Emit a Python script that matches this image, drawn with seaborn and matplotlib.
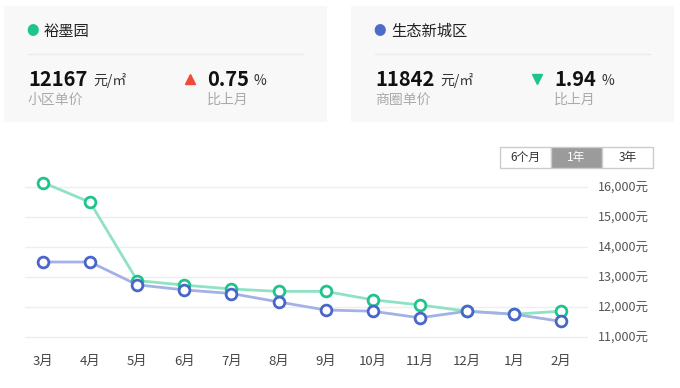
import matplotlib
matplotlib.use("Agg")
import matplotlib.pyplot as plt
import seaborn as sns
import pandas as pd
from matplotlib.patches import Rectangle

months = ["3月", "4月", "5月", "6月", "7月", "8月", "9月", "10月", "11月", "12月", "1月", "2月"]
yumoyuan = [16150, 15490, 12880, 12730, 12600, 12520, 12520, 12240, 12070, 11860, 11760, 11860]
shengtai = [13500, 13500, 12740, 12570, 12450, 12170, 11900, 11860, 11640, 11860, 11760, 11520]
yticks = [11000, 12000, 13000, 14000, 15000, 16000]
name1, name2 = "裕墨园", "生态新城区"
price1, price2 = "12167", "11842"
change1, change2 = "0.75", "1.94"
buttons = ["6个月", "1年", "3年"]

sns.set_theme(style="white")
plt.rcParams['font.family'] = ['Noto Sans CJK SC', 'DejaVu Sans']

W, H = 680, 388
fig = plt.figure(figsize=(W / 100, H / 100), dpi=100)
fig.patch.set_facecolor("white")

def fx(x): return x / W
def fy(y): return 1 - y / H

def rect(x0, y0, x1, y1, **kw):
    fig.patches.append(Rectangle((fx(x0), fy(y1)), fx(x1) - fx(x0), fy(y0) - fy(y1),
                                 transform=fig.transFigure, figure=fig, **kw))

GREEN_DARK = "#1fc48d"
GREEN_LINE = "#8fe2c3"
BLUE_DARK = "#4a66c8"
BLUE_LINE = "#a4b1e6"

# cards
for (x0, x1, dotc, name, price, arrow, arrowc, chg, lab) in [
    (4, 327, GREEN_DARK, name1, price1, "^", "#f04b3a", change1, "小区单价"),
    (351, 674, "#4d6bc9", name2, price2, "v", GREEN_DARK, change2, "商圈单价"),
]:
    rect(x0, 6, x1, 122, facecolor="#f8f8f8", edgecolor="none")
    fig.lines.append(plt.Line2D([fx(x0 + 24), fx(x1 - 24)], [fy(54), fy(54)],
                                transform=fig.transFigure, color="#ebebeb", lw=1))
    fig.text(fx(x0 + 29), fy(31), "●", color=dotc, fontsize=9, ha="center", va="center")
    fig.text(fx(x0 + 40), fy(31), name, color="#222222", fontsize=11, ha="left", va="center")
    fig.text(fx(x0 + 24), fy(80), price, color="#111111", fontsize=14.5,
             fontweight="bold", ha="left", va="center")
    fig.text(fx(x0 + 89), fy(81), "元/㎡", color="#333333", fontsize=10, ha="left", va="center")
    fig.text(fx(x0 + 24), fy(100), lab, color="#aaaaaa", fontsize=10, ha="left", va="center")
    fig.lines.append(plt.Line2D([fx(x0 + 186)], [fy(79)], transform=fig.transFigure,
                                marker=arrow, color=arrowc, markersize=7, lw=0))
    fig.text(fx(x0 + 203), fy(80), chg, color="#111111", fontsize=14.5,
             fontweight="bold", ha="left", va="center")
    fig.text(fx(x0 + 250), fy(81), "%", color="#333333", fontsize=10, ha="left", va="center")
    fig.text(fx(x0 + 203), fy(100), "比上月", color="#aaaaaa", fontsize=10, ha="left", va="center")

# buttons
bx = [500, 551, 602, 653]
for i, b in enumerate(buttons):
    sel = (i == 1)
    rect(bx[i], 147, bx[i + 1], 168, facecolor="#9b9b9b" if sel else "white",
         edgecolor="#cccccc", lw=1)
    fig.text(fx((bx[i] + bx[i + 1]) / 2), fy(157.5), b, color="white" if sel else "#333333",
             fontsize=8.5, ha="center", va="center")

# chart
ax = fig.add_axes([fx(25), fy(347), fx(588) - fx(25), fy(172) - fy(347)])
df = pd.DataFrame({"month": months, "idx": range(len(months)),
                   "yumoyuan": yumoyuan, "shengtai": shengtai})
sns.lineplot(data=df, x="idx", y="yumoyuan", ax=ax, color=GREEN_LINE, lw=2, zorder=2)
sns.lineplot(data=df, x="idx", y="shengtai", ax=ax, color=BLUE_LINE, lw=2, zorder=2)
sns.scatterplot(data=df, x="idx", y="yumoyuan", ax=ax, s=60, facecolor="white",
                edgecolor=GREEN_DARK, linewidth=2, zorder=3)
sns.scatterplot(data=df, x="idx", y="shengtai", ax=ax, s=60, facecolor="white",
                edgecolor=BLUE_DARK, linewidth=2, zorder=4)

ax.set_xlim(-0.382, 11.57)
ax.set_ylim(10667, 16500)
ax.set_yticks(yticks)
ax.set_yticklabels([f"{v:,}元" for v in yticks])
ax.set_xticks(range(len(months)))
ax.set_xticklabels(months)
ax.yaxis.tick_right()
ax.tick_params(axis="y", length=0, pad=7.5, labelsize=9, labelcolor="#555555")
ax.tick_params(axis="x", length=0, pad=6, labelsize=9.5, labelcolor="#444444")
ax.grid(axis="y", color="#eeeeee", lw=1)
ax.set_axisbelow(True)
for s in ax.spines.values():
    s.set_visible(False)
ax.set_xlabel("")
ax.set_ylabel("")
ax.set_facecolor("none")

fig.savefig("out.png", dpi=100)
